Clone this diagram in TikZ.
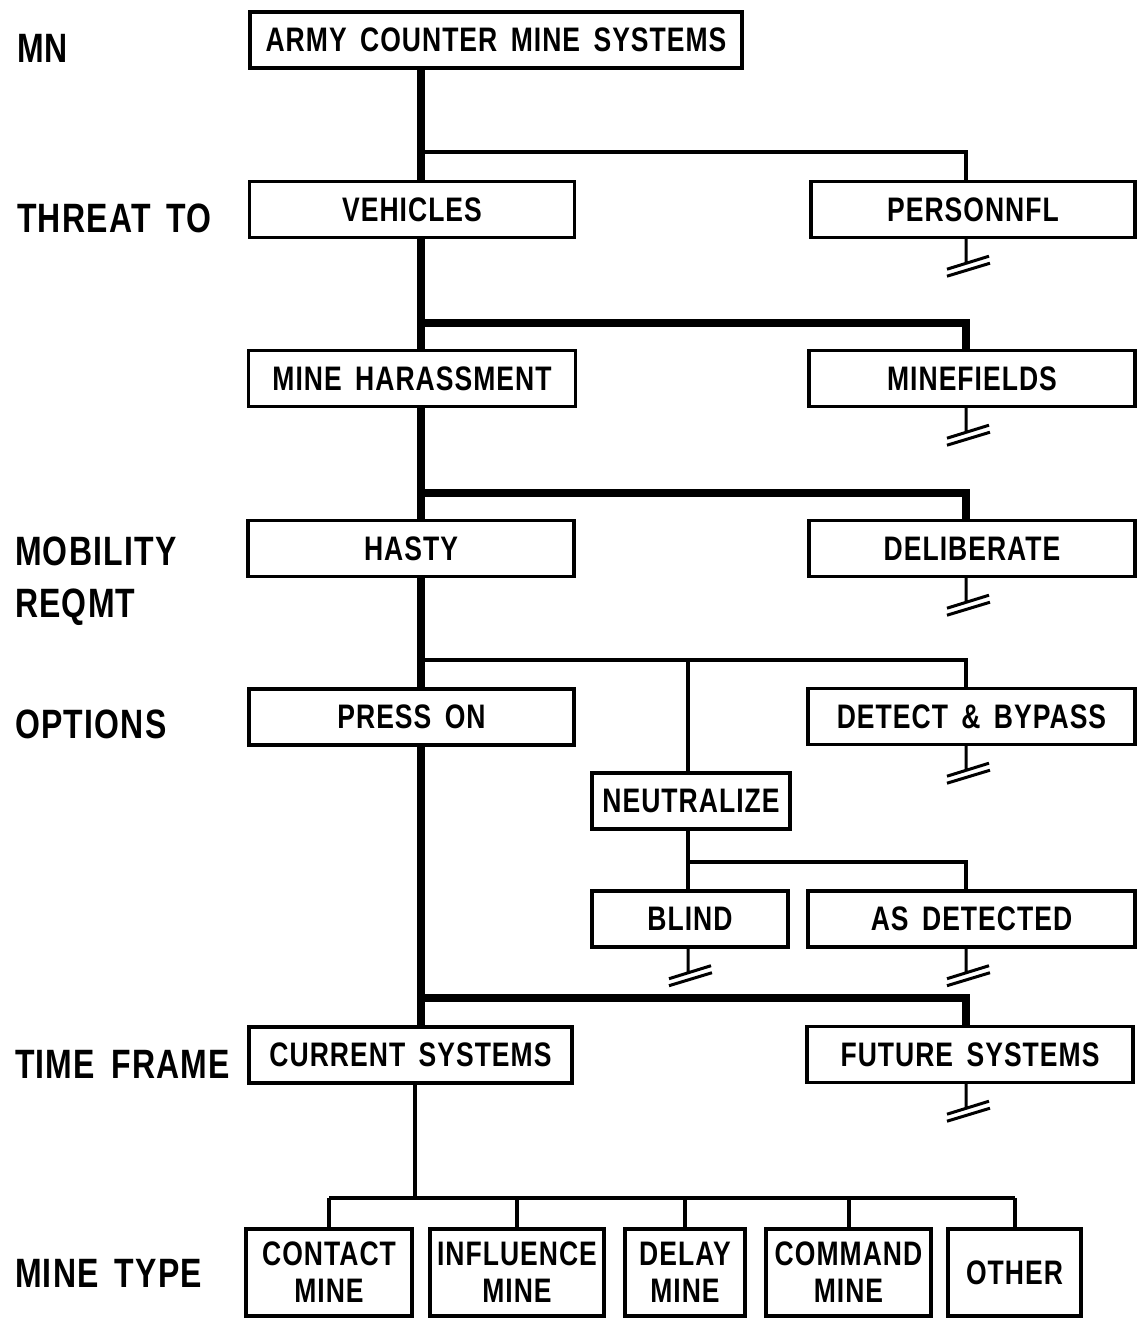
\documentclass[tikz,border=0pt]{standalone}
\usepackage{fontspec}
\setmainfont{Liberation Sans}[FakeStretch=0.78, LetterSpace=3, WordSpace=1.6]
\newcommand\brk[1]{\draw[brkline] (#1) -- ++(0,24) ++(-19,6) -- ++(42,-13) ++(-42,20) -- ++(43,-13);}
\begin{document}
\begin{tikzpicture}[x=0.5pt,y=-0.5pt,
  box/.style={draw, line width=1.7pt, inner sep=0pt, minimum height=28pt,
    align=center, font=\bfseries\fontsize{17}{18.5}\selectfont},
  wd/.style={minimum width=#1*0.5pt},
  tall/.style={minimum height=43.5pt},
  lbl/.style={anchor=west, align=left, font=\bfseries\fontsize{20.5}{26}\selectfont},
  trunkline/.style={line width=4pt},
  branchline/.style={line width=2pt},
  brkline/.style={line width=1.5pt}]
  \useasboundingbox (0,0) rectangle (1138,1318);

  % Level labels
  \node[lbl] (lmn) at (10,48) {MN};
  \node[lbl] (lthreat) at (10,218) {THREAT TO};
  \node[lbl] (lmob) at (8,581) {MOBILITY\\REQMT};
  \node[lbl] (lopt) at (8,724) {OPTIONS};
  \node[lbl] (ltime) at (8,1064) {TIME FRAME};
  \node[lbl] (ltype) at (8,1273) {MINE TYPE};

  % Boxes
  \node[box, wd=492] (acms) at (496,40) {ARMY COUNTER MINE SYSTEMS};
  \node[box, wd=325] (veh) at (412,209.5) {VEHICLES};
  \node[box, wd=324] (pers) at (973,209.5) {PERSONNFL};
  \node[box, wd=327] (harass) at (412,378.5) {MINE HARASSMENT};
  \node[box, wd=326] (mfield) at (972,378.5) {MINEFIELDS};
  \node[box, wd=326] (hasty) at (411,548.5) {HASTY};
  \node[box, wd=326] (delib) at (972,548.5) {DELIBERATE};
  \node[box, wd=325] (press) at (411.5,717) {PRESS ON};
  \node[box, wd=327] (detect) at (971.5,716.5) {DETECT \& BYPASS};
  \node[box, wd=198] (neut) at (691,801) {NEUTRALIZE};
  \node[box, wd=196] (blind) at (690,919) {BLIND};
  \node[box, wd=327] (asdet) at (971.5,919) {AS DETECTED};
  \node[box, wd=323] (curr) at (410.5,1055) {CURRENT SYSTEMS};
  \node[box, wd=326] (fut) at (970,1054.5) {FUTURE SYSTEMS};
  \node[box, tall, wd=166] (contact) at (329,1272.5) {CONTACT\\MINE};
  \node[box, tall, wd=174] (influence) at (517,1272.5) {INFLUENCE\\MINE};
  \node[box, tall, wd=120] (delay) at (685,1272.5) {DELAY\\MINE};
  \node[box, tall, wd=165] (command) at (848.5,1272.5) {COMMAND\\MINE};
  \node[box, tall, wd=133] (other) at (1014.5,1272.5) {OTHER};

  % Columns and branch points
  \coordinate (tr) at (421,0);
  \coordinate (rc) at (966,0);
  \coordinate (mc) at (688,0);
  \coordinate (b1) at (421,152);
  \coordinate (b2) at (421,323);
  \coordinate (b3) at (421,493);
  \coordinate (b4) at (421,660);
  \coordinate (b5) at (421,998);
  \coordinate (n1) at (688,862);
  \coordinate (bus) at (415,1198);

  % Main trunk
  \foreach \a/\b in {acms/veh, veh/harass, harass/hasty, hasty/press, press/curr}
    \draw[trunkline] (tr |- \a.south) -- (tr |- \b.north);

  % Branches
  \draw[branchline] (b1) -| (rc |- pers.north);
  \draw[trunkline] (b2) -| (rc |- mfield.north);
  \draw[trunkline] (b3) -| (rc |- delib.north);
  \draw[branchline] (b4) -| (rc |- detect.north);
  \draw[branchline] (mc |- b4) -- (mc |- neut.north);
  \draw[branchline] (mc |- neut.south) -- (mc |- blind.north);
  \draw[branchline] (n1) -| (rc |- asdet.north);
  \draw[trunkline] (b5) -| (rc |- fut.north);

  % Mine types
  \draw[branchline] (bus |- curr.south) -- (bus);
  \draw[branchline] (bus -| contact.north) -- (bus -| other.north);
  \foreach \m in {contact, influence, delay, command, other}
    \draw[branchline] (bus -| \m.north) -- (\m.north);

  % Breaks
  \brk{rc |- pers.south}
  \brk{rc |- mfield.south}
  \brk{rc |- delib.south}
  \brk{rc |- detect.south}
  \brk{mc |- blind.south}
  \brk{rc |- asdet.south}
  \brk{rc |- fut.south}
\end{tikzpicture}
\end{document}
